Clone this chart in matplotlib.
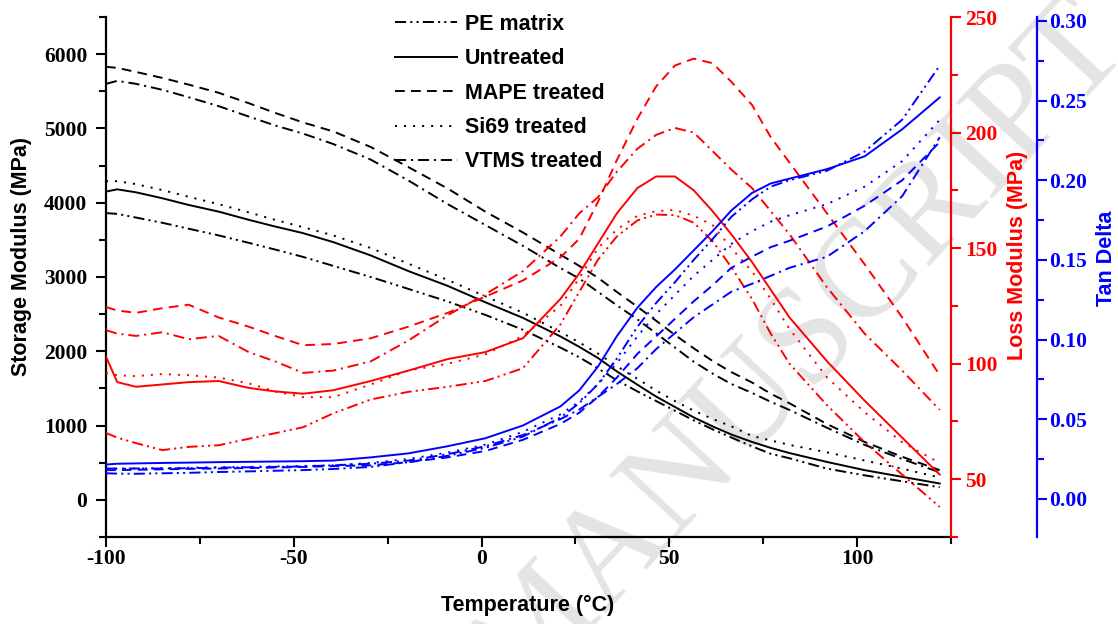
import numpy as np
import matplotlib.pyplot as plt
from matplotlib.lines import Line2D
from matplotlib.ticker import MultipleLocator, FormatStrFormatter

plt.rcParams['lines.scale_dashes'] = False
plt.rcParams['axes.unicode_minus'] = False

# temperature grid (deg C) shared by all curves
temp = [-100, -97, -92, -85, -78, -70, -62, -55, -47.5, -39.5, -29.5, -19.5, -9, 1, 11, 21,
        26, 31, 36, 41.5, 46.5, 51.5, 56.5, 61.5, 66.5, 72, 77, 82, 92, 102, 112, 122]

labels = ['PE matrix', 'Untreated', 'MAPE treated', 'Si69 treated', 'VTMS treated']

# storage modulus (MPa)
E_pe = [3860, 3850, 3800, 3730, 3650, 3560, 3460, 3370, 3270, 3150, 3000, 2840, 2670, 2490, 2290, 2050,
        1920, 1770, 1610, 1460, 1330, 1200, 1070, 950, 840, 720, 620, 560, 420, 330, 250, 170]
E_untr = [4150, 4180, 4140, 4060, 3970, 3880, 3770, 3680, 3590, 3470, 3290, 3080, 2880, 2660, 2450, 2200,
          2060, 1910, 1730, 1550, 1390, 1250, 1110, 990, 880, 780, 700, 630, 510, 400, 310, 220]
E_mape = [5830, 5815, 5760, 5680, 5590, 5480, 5340, 5210, 5080, 4960, 4750, 4480, 4190, 3880, 3600, 3300,
          3150, 2990, 2800, 2600, 2410, 2220, 2040, 1870, 1720, 1580, 1430, 1300, 1020, 780, 580, 400]
E_si69 = [4290, 4290, 4250, 4170, 4080, 3980, 3870, 3770, 3670, 3560, 3390, 3180, 2960, 2740, 2520, 2260,
          2120, 1970, 1800, 1630, 1470, 1330, 1200, 1090, 990, 860, 800, 740, 640, 530, 420, 300]
E_vtms = [5600, 5640, 5600, 5520, 5420, 5300, 5160, 5040, 4930, 4790, 4580, 4300, 3980, 3700, 3420, 3120,
          2980, 2800, 2620, 2430, 2240, 2050, 1860, 1700, 1560, 1440, 1320, 1210, 970, 740, 550, 370]

# loss modulus (MPa)
L_pe = [70, 68, 65.6, 62.6, 64, 64.7, 67.5, 69.9, 72.5, 78.5, 84.5, 87.8, 90, 92.5, 98, 117,
        131, 145, 155, 162, 164.5, 164.3, 161, 153, 141.8, 128, 113, 100, 82, 66, 52, 38]
L_untr = [103, 92, 90, 91, 92, 92.5, 89.5, 88, 87, 88.5, 92.5, 97, 102, 105, 111, 128,
          139, 152, 165, 176, 181, 181, 175, 166, 156, 144, 132, 120, 101, 84, 68, 52]
L_mape = [124.5, 123, 122, 124, 125.5, 120, 116, 112, 108, 108.5, 111, 116, 122, 129, 136, 146,
          154, 170, 188, 206, 220, 229, 232, 230, 222, 212, 198, 187, 165, 143, 120, 95]
L_si69 = [96, 95, 94.6, 95.5, 95, 94, 91.5, 88, 85.5, 85.5, 91, 97, 100, 104, 112, 125,
          137, 150, 158, 164, 166, 166.5, 164, 160, 150, 140, 128, 115, 94, 79, 66, 57]
L_vtms = [114.5, 113, 112, 113.6, 110.6, 112, 105, 101, 96, 97, 101, 110, 121, 130, 140, 155,
          165, 172, 183, 193, 199, 202, 200, 192, 184, 176, 166, 156, 133, 113, 97, 80]

# tan delta
D_pe = [0.016, 0.0158, 0.0157, 0.016, 0.0163, 0.0168, 0.0172, 0.0176, 0.018, 0.0187, 0.020, 0.023, 0.027,
        0.032, 0.039, 0.051, 0.060, 0.072, 0.088, 0.108, 0.123, 0.136, 0.150, 0.163, 0.177, 0.188, 0.196,
        0.200, 0.206, 0.218, 0.238, 0.272]
D_untr = [0.0215, 0.022, 0.0222, 0.0225, 0.0227, 0.023, 0.0232, 0.0234, 0.0236, 0.024, 0.026, 0.0285, 0.033,
          0.038, 0.046, 0.058, 0.068, 0.083, 0.102, 0.120, 0.133, 0.144, 0.156, 0.168, 0.181, 0.192, 0.198,
          0.201, 0.207, 0.215, 0.232, 0.252]
D_mape = [0.018, 0.018, 0.0182, 0.0185, 0.0188, 0.019, 0.0193, 0.0196, 0.020, 0.0205, 0.021, 0.023, 0.026,
          0.030, 0.037, 0.047, 0.054, 0.064, 0.076, 0.091, 0.102, 0.113, 0.124, 0.134, 0.145, 0.152, 0.158,
          0.162, 0.171, 0.184, 0.200, 0.224]
D_si69 = [0.019, 0.0188, 0.019, 0.0192, 0.0195, 0.0198, 0.020, 0.0203, 0.0206, 0.021, 0.0225, 0.025, 0.029,
          0.034, 0.042, 0.053, 0.061, 0.072, 0.085, 0.102, 0.116, 0.128, 0.140, 0.150, 0.160, 0.168, 0.174,
          0.178, 0.185, 0.196, 0.212, 0.238]
D_vtms = [0.019, 0.019, 0.019, 0.019, 0.0192, 0.0195, 0.0198, 0.020, 0.0203, 0.021, 0.022, 0.024, 0.028,
          0.033, 0.040, 0.050, 0.056, 0.064, 0.072, 0.082, 0.094, 0.104, 0.114, 0.122, 0.130, 0.135, 0.140,
          0.145, 0.152, 0.168, 0.190, 0.227]

styles = [(0, (8, 3, 1.5, 3, 1.5, 3)), '-', (0, (7, 4.5)), (0, (1.5, 5)), (0, (8, 3.5, 1.5, 3.5))]
lw = 1.4

tick_font = {'family': 'Liberation Serif', 'weight': 'bold', 'size': 15.5}
label_font = {'family': 'Liberation Sans', 'weight': 'bold', 'size': 15.5}

fig = plt.figure(figsize=(11.18, 6.24), dpi=100)
ax = fig.add_axes([106 / 1118, 1 - 537 / 624, 845 / 1118, 520 / 624])
ax2 = ax.twinx()
ax3 = ax.twinx()
ax3.spines['right'].set_position(('axes', 931 / 845))

# watermark
ax.text(1132 / 1118, 1 - 50 / 624, 'ACCEPTED MANUSCRIPT', transform=fig.transFigure,
        rotation=47, rotation_mode='anchor', ha='right', va='baseline',
        fontsize=100, family='Liberation Serif', color='#e4e4e4', zorder=0, clip_on=False)

for vals, ls in zip([E_pe, E_untr, E_mape, E_si69, E_vtms], styles):
    ax.plot(temp, vals, color='black', linestyle=ls, lw=lw)
for vals, ls in zip([L_pe, L_untr, L_mape, L_si69, L_vtms], styles):
    ax2.plot(temp, vals, color='red', linestyle=ls, lw=lw)
for vals, ls in zip([D_pe, D_untr, D_mape, D_si69, D_vtms], styles):
    ax3.plot(temp, vals, color='blue', linestyle=ls, lw=lw)

ax.set_xlim(-100, 125)
ax.set_ylim(-500, 6500)
ax2.set_ylim(25, 250)
ax3.set_ylim(-0.024, 0.3025)

ax.xaxis.set_major_locator(MultipleLocator(50))
ax.xaxis.set_minor_locator(MultipleLocator(25))
ax.yaxis.set_major_locator(MultipleLocator(1000))
ax.yaxis.set_minor_locator(MultipleLocator(500))
ax2.yaxis.set_major_locator(MultipleLocator(50))
ax2.yaxis.set_minor_locator(MultipleLocator(25))
ax3.yaxis.set_major_locator(MultipleLocator(0.05))
ax3.yaxis.set_minor_locator(MultipleLocator(0.025))
ax3.yaxis.set_major_formatter(FormatStrFormatter('%.2f'))

for a in (ax, ax2, ax3):
    for s in a.spines.values():
        s.set_visible(False)
    a.tick_params(which='major', length=7.5, width=1.5, direction='out')
    a.tick_params(which='minor', length=4.7, width=1.5, direction='out')
ax.spines['left'].set_visible(True)
ax.spines['bottom'].set_visible(True)
ax2.spines['right'].set_visible(True)
ax3.spines['right'].set_visible(True)
ax.spines['left'].set_linewidth(1.6)
ax.spines['bottom'].set_linewidth(1.6)
ax2.spines['right'].set_linewidth(1.6)
ax2.spines['right'].set_color('red')
ax3.spines['right'].set_linewidth(1.6)
ax3.spines['right'].set_color('blue')

ax.tick_params(axis='y', pad=6)
ax.tick_params(axis='x', pad=1.5)
ax2.tick_params(axis='y', which='both', colors='red', pad=2.5)
ax3.tick_params(axis='y', which='both', colors='blue', pad=1.5)

for a in (ax, ax2, ax3):
    for t in a.get_xticklabels() + a.get_yticklabels():
        t.set_fontproperties(tick_font)
        t.set_fontsize(tick_font['size'])
        t.set_fontweight('bold')

fig.text(22 / 1118, 1 - 256 / 624, 'Storage Modulus (MPa)', rotation=90, ha='center', va='center', **label_font)
fig.text(1018 / 1118, 1 - 255 / 624, 'Loss Modulus (MPa)', rotation=90, ha='center', va='center',
         color='red', **label_font)
fig.text(1106 / 1118, 1 - 258 / 624, 'Tan Delta', rotation=90, ha='center', va='center',
         color='blue', **label_font)
fig.text(528 / 1118, 1 - 605 / 624, 'Temperature (\u00b0C)', ha='center', va='center', **label_font)

handles = [Line2D([], [], color='black', linestyle=ls, lw=lw) for ls in styles]
ax.legend(handles, labels, loc='upper left', bbox_to_anchor=(395 / 1118, 1 - 14 / 624),
          bbox_transform=fig.transFigure, frameon=False, borderpad=0, borderaxespad=0,
          handlelength=2.9, handletextpad=0.35, labelspacing=0.62,
          prop={'family': 'Liberation Sans', 'weight': 'bold', 'size': 15.5})

fig.savefig('out.png', dpi=100)
